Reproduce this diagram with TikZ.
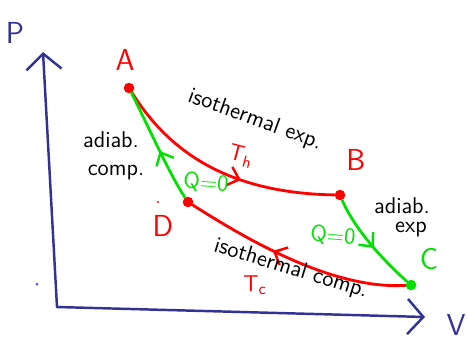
\documentclass[tikz,border=0pt]{standalone}
\usepackage{tikz}
\usetikzlibrary{arrows.meta,decorations.markings}
\definecolor{axisblue}{RGB}{50,50,150}
\definecolor{handgreen}{RGB}{0,225,0}
\tikzset{statedot/.style={circle,fill,inner sep=0pt,minimum size=6pt},
  midarrow/.style={postaction={decorate},decoration={markings,mark=at position #1 with {\arrow{Straight Barb[length=6pt,width=11pt,line width=1.4pt]}}}}}

\begin{document}
\begin{tikzpicture}[x=0.02cm,y=-0.02cm,line cap=round,line join=round,font=\sffamily\fontsize{13}{15}\selectfont,every node/.style={inner sep=0pt}]
\useasboundingbox (0,0) rectangle (467,339);
% --- axes
\coordinate (O) at (57,307); \coordinate (ptop) at (43,52); \coordinate (vend) at (425,317);
\draw[axisblue,line width=1.4pt,-{Straight Barb[length=9pt,width=20pt,line width=1.4pt]}] (O) -- (ptop);
\draw[axisblue,line width=1.4pt,-{Straight Barb[length=9pt,width=20pt,line width=1.4pt]}] (O) -- (vend);
\node[axisblue,font=\sffamily\LARGE] (plab) at (15,33) {P};
\node[axisblue,font=\sffamily\LARGE] (vlab) at (456,325) {V};
\fill[blue!70] (37,284) circle (1.5);
% --- states
\node[statedot,red] (A) at (129,88) {}; \node[statedot,red] (B) at (340,195) {};
\node[statedot,handgreen] (C) at (411,285) {}; \node[statedot,red] (D) at (188,202) {};
\fill[red] (158,202) circle (1.2);
\node[red,font=\sffamily\LARGE] (lblA) at (125,60) {A};
\node[red,font=\sffamily\LARGE] (lblB) at (356,160) {B};
\node[handgreen,font=\sffamily\LARGE] (lblC) at (429,259) {C};
\node[red,font=\sffamily\LARGE] (lblD) at (163,226) {D};
% --- isotherms
\draw[red,line width=1.6pt,midarrow=0.6] (A) .. controls (165,145) and (220,193) .. (B);
\draw[red,line width=1.6pt,midarrow=0.6] (C) .. controls (330,290) and (240,235) .. (D);
% --- adiabats
\draw[handgreen,line width=1.6pt,midarrow=0.45] (D) .. controls (170,175) and (150,130) .. (A);
\draw[handgreen,line width=1.6pt,midarrow=0.55] (B) .. controls (355,230) and (385,262) .. (C);
% --- labels
\node[rotate=-20] (isoexp) at (255,120) {isothermal exp.};
\node[red,rotate=-15] (th) at (241,156) {T\textsubscript{h}};
\node[handgreen,rotate=-5] (q1) at (206,183) {Q=0};
\node (adcomp) at (111,140) {adiab.}; \node (comp) at (116,172) {comp.};
\node[handgreen,rotate=-5] (q2) at (333,236) {Q=0};
\node (adexp) at (402,206) {adiab.}; \node (exp) at (411,229) {exp};
\node[rotate=-17] (isocomp) at (291,269) {isothermal comp.};
\node[red] (tc) at (255,285) {T\textsubscript{c}};
\end{tikzpicture}
\end{document}
